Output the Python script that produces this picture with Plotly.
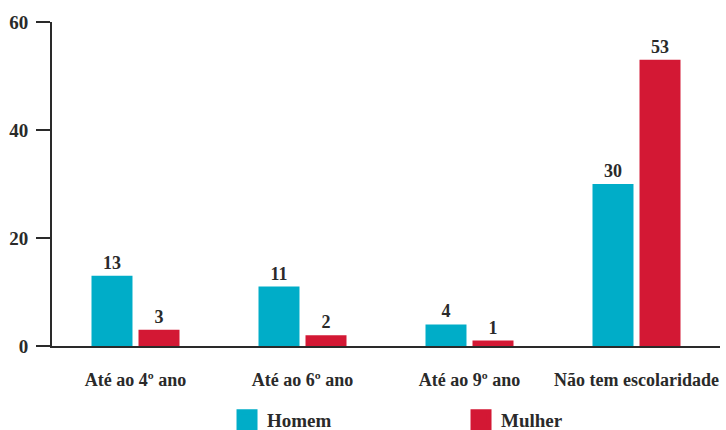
import plotly.graph_objects as go

categories = ["Até ao 4º ano", "Até ao 6º ano", "Até ao 9º ano", "Não tem escolaridade"]
homem = [13, 11, 4, 30]
mulher = [3, 2, 1, 53]
y_ticks = [0, 20, 40, 60]

BLUE = "#00ADC8"
RED = "#D31834"
INK = "#2a2a2a"
FONT = "Liberation Serif"

fig = go.Figure()
for name, vals, color in [("Homem", homem, BLUE), ("Mulher", mulher, RED)]:
    fig.add_trace(go.Bar(
        name=name, x=categories, y=vals, showlegend=False,
        marker=dict(color=color, line=dict(width=0)),
        text=[str(v) for v in vals], textposition="outside",
        textfont=dict(family=FONT, size=18, color=INK, weight="bold"),
        cliponaxis=False,
    ))
    # legend key: large square swatch
    fig.add_trace(go.Scatter(
        name=name, x=[None], y=[None], mode="markers",
        marker=dict(symbol="square", size=16, color=color, line=dict(color=color, width=5)),
    ))

fig.update_layout(
    width=726, height=430,
    margin=dict(l=52, r=6, t=22, b=84, autoexpand=False),
    paper_bgcolor="white", plot_bgcolor="white",
    font=dict(family=FONT, size=18, color=INK, weight="bold"),
    barmode="group", bargap=0.437, bargroupgap=0.128,
    legend=dict(orientation="h", x=0.262, xanchor="left", y=-0.228, yanchor="middle",
                entrywidth=189, entrywidthmode="pixels",
                font=dict(family=FONT, size=19, color=INK, weight="bold")),
    showlegend=True,
)
fig.update_xaxes(showline=True, linecolor=INK, linewidth=2, ticks="", showgrid=False,
                 ticklabelstandoff=16, tickfont=dict(family=FONT, size=18, color=INK, weight="bold"))
fig.update_yaxes(range=[0, 60], tickvals=y_ticks, showline=True, linecolor=INK, linewidth=2,
                 ticks="outside", ticklen=14, tickwidth=2, tickcolor=INK, showgrid=False,
                 zeroline=False, ticklabelstandoff=4,
                 tickfont=dict(family=FONT, size=19, color=INK, weight="bold"))

fig.write_html("out.html")
